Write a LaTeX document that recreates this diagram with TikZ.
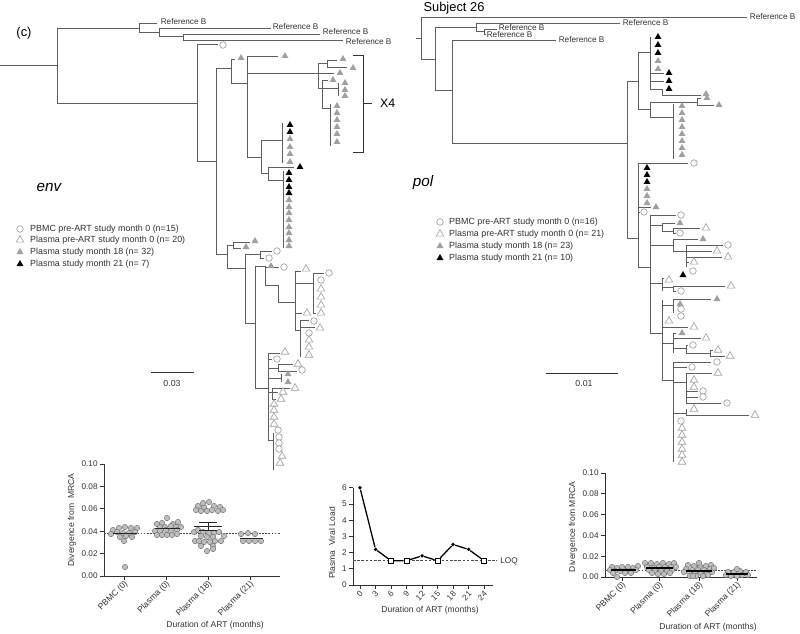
\documentclass[tikz,border=0pt]{standalone}
\usepackage{fontspec}
\setmainfont{Liberation Sans}
\usetikzlibrary{positioning,shapes.geometric}
\definecolor{treegray}{RGB}{95,95,95}
\definecolor{tipgray}{RGB}{160,160,160}
\definecolor{dotgray}{RGB}{190,190,190}

\begin{document}
\begin{tikzpicture}[
      x=0.3mm, y=-0.3mm,
      br/.style   ={draw=treegray, line width=0.6pt},
      sbar/.style ={draw=black!80, line width=0.8pt},
      refl/.style ={font=\fontsize{7}{8}\selectfont, text=black!80,
                    inner sep=0.5pt, anchor=west},
      lgd/.style  ={font=\fontsize{7.6}{9}\selectfont, text=black!80,
                    inner sep=0pt, anchor=west},
      circ/.style ={circle, draw=tipgray, fill=white, line width=0.55pt,
                    inner sep=0pt, minimum size=5.6pt},
      otri/.style ={regular polygon, regular polygon sides=3, draw=tipgray,
                    fill=white, line width=0.55pt, inner sep=0pt,
                    minimum size=7.4pt},
      gtri/.style ={regular polygon, regular polygon sides=3, fill=tipgray,
                    inner sep=0pt, minimum size=6.8pt},
      ktri/.style ={regular polygon, regular polygon sides=3, fill=black,
                    inner sep=0pt, minimum size=6.8pt},
      ax/.style   ={draw=black!80, line width=0.6pt},
      tk/.style   ={font=\fontsize{7}{8}\selectfont, text=black!80, inner sep=1pt},
      cat/.style  ={font=\fontsize{7.3}{8}\selectfont, text=black!80,
                    inner sep=0.5pt, rotate=45, anchor=east},
      axl/.style  ={font=\fontsize{7.3}{8}\selectfont, text=black!80, inner sep=0pt},
      dv/.style   ={circle, draw=black!55, fill=dotgray, line width=0.4pt,
                    inner sep=0pt, minimum size=4.6pt},
      meanl/.style={draw=black!85, line width=0.7pt},
      refd/.style ={draw=black!70, line width=0.5pt, dash pattern=on 1.6pt off 1pt},
      vdot/.style ={circle, fill=black, inner sep=0pt, minimum size=3.2pt},
      vsq/.style  ={rectangle, draw=black, fill=white, line width=0.6pt,
                    inner sep=0pt, minimum size=4.5pt},
      vline/.style={draw=black, line width=1.1pt}
    ]
    \useasboundingbox (0,0) rectangle (800,633);

    % --- titles ---
    \node[font=\fontsize{11}{12}\selectfont] (lblc) at (24,33) {(c)};
    \node[font=\fontsize{11}{12}\selectfont] (subj) at (454,8) {Subject 26};
    \node[font=\fontsize{13}{14}\selectfont\itshape] (genv) at (49,187) {env};
    \node[font=\fontsize{13}{14}\selectfont\itshape] (gpol) at (423,183) {pol};

    % --- env tree: reference sequences ---
    \draw[br] (0,65) -- (57,65) (57,28) -- (57,103);
    \draw[br] (57,28) -- (139,28) (139,23) -- (139,32) (139,23) -- (157,23);
    \draw[br] (139,32) -- (159,32) (159,28) -- (159,36) (159,28) -- (271,28);
    \draw[br] (159,36) -- (183,36) (183,34) -- (183,40) (183,34) -- (320,34)
              (183,40) -- (343,40);
    \node[refl] (era) at (160,22) {Reference B};
    \node[refl] (erb) at (272,27) {Reference B};
    \node[refl] (erc) at (322,32) {Reference B};
    \node[refl] (erd) at (345,42) {Reference B};

    % --- env tree: subject sequences ---
    \draw[br] (57,103) -- (197,103) (197,44) -- (197,161) (197,44) -- (218,44);
    \draw[br] (197,161) -- (216,161) (216,68) -- (216,254);
    \draw[br] (216,68) -- (231,68) (231,59) -- (231,83) (231,59) -- (235,59);
    \draw[br] (231,83) -- (247,83) (247,56) -- (247,157) (247,56) -- (278,56);
    % X4 clade
    \draw[br] (247,73) -- (318,73) (318,63) -- (318,88);
    \draw[br] (318,63) -- (327,63) (327,60) -- (327,67) (327,60) -- (337,60)
              (327,67) -- (347,67) (318,73) -- (334,73);
    \draw[br] (318,88) -- (322,88) (322,80) -- (322,108) (322,80) -- (328,80);
    \draw[br] (322,88) -- (338,88) (338,83) -- (338,96);
    \draw[br] (322,108) -- (330,108) (330,104) -- (330,146);
    \draw[sbar] (353,55) -- (363,55) -- (363,152) -- (353,152) (363,103) -- (372,103);
    \node[font=\fontsize{10.5}{12}\selectfont, anchor=west] (x4) at (376,103) {X4};
    % month 18/21 combs
    \draw[br] (247,157) -- (261,157) (261,140) -- (261,173);
    \draw[br] (261,140) -- (282,140) (282,123) -- (282,163);
    \draw[br] (261,173) -- (268,173) (268,167) -- (268,180) (268,167) -- (294,167);
    \draw[br] (268,180) -- (283,180) (283,171) -- (283,248);
    % pre-ART clades
    \draw[br] (216,254) -- (227,254) (227,245) -- (227,268);
    \draw[br] (227,245) -- (233,245) (233,242) -- (233,248) (233,242) -- (250,242)
              (233,248) -- (241,248);
    \draw[br] (227,268) -- (245,268) (245,254) -- (245,323);
    \draw[br] (245,254) -- (260,254) (260,251) -- (260,258) (260,251) -- (272,251)
              (260,258) -- (264,258);
    \draw[br] (245,323) -- (255,323) (255,266) -- (255,388);
    \draw[br] (255,266) -- (265,266) (265,266) -- (265,285) (265,267) -- (279,267);
    \draw[br] (265,285) -- (278,285) (278,285) -- (278,302) (278,302) -- (295,302)
              (295,271) -- (295,330) (295,271) -- (301,271);
    \draw[br] (295,283) -- (313,283) (313,273) -- (313,313) (313,273) -- (324,273)
              (313,313) -- (316,313) (295,313) -- (302,313);
    \draw[br] (295,330) -- (300,330) (300,320) -- (300,357) (300,320) -- (309,320)
              (300,327) -- (315,327);
    \draw[br] (255,388) -- (268,388) (268,353) -- (268,440);
    \draw[br] (268,353) -- (280,353) (268,359) -- (272,359);
    \draw[br] (268,368) -- (278,368) (278,364) -- (278,371) (278,364) -- (293,364)
              (278,371) -- (297,371);
    \draw[br] (268,378) -- (281,378) (281,374) -- (281,382);
    \draw[br] (268,392) -- (272,392) (272,388) -- (272,399) (272,388) -- (290,388)
              (272,392) -- (278,392) (272,399) -- (276,399);
    \draw[br] (268,440) -- (273,440) (273,433) -- (273,470);

    % --- env tips ---
    \foreach \px/\py [count=\i] in {223/45, 277/251, 269/258, 284/267, 329/273,
        321/280, 314/321, 309/333, 277/359, 302/370, 278/430, 279/437, 279/443,
        279/449}
      \node[circ] (ec\i) at (\px,\py) {};
    \foreach \px/\py [count=\i] in {306/269, 321/289, 321/297, 321/305, 321/313,
        307/313, 320/328, 309/340, 309/347, 309/355, 285/352, 298/364, 295/388,
        283/392, 281/399, 274/404, 274/410, 274/417, 274/424, 282/456, 280/463}
      \node[otri] (eo\i) at (\px,\py) {};
    \foreach \px/\py [count=\i] in {241/58, 285/56, 343/59, 353/68, 340/73, 333/80,
        345/83, 345/90, 345/96, 337/106, 337/113, 337/120, 337/127, 337/134,
        337/142, 290/139, 290/147, 290/154, 290/162, 289/200, 289/207, 289/213,
        289/220, 289/227, 289/233, 289/240, 289/246, 255/241, 246/247, 271/266,
        288/374, 288/382}
      \node[gtri] (eg\i) at (\px,\py) {};
    \foreach \px/\py [count=\i] in {290/125, 290/132, 300/167, 289/173, 289/180,
        289/187, 289/193}
      \node[ktri] (ek\i) at (\px,\py) {};

    % --- env legend and scale ---
    \node[circ] (elc) at (20,229) {};
    \node[otri] (elo) at (20,240) {};
    \node[gtri] (elg) at (20,252) {};
    \node[ktri] (elk) at (20,264) {};
    \node[lgd] (eltc) at (30,229) {PBMC pre-ART study month 0 (n=15)};
    \node[lgd] (elto) at (30,240) {Plasma pre-ART study month 0 (n= 20)};
    \node[lgd] (eltg) at (30,252) {Plasma study month 18 (n= 32)};
    \node[lgd] (eltk) at (30,264) {Plasma study month 21 (n= 7)};
    \draw[sbar] (151,372) -- (194,372);
    \node[tk, font=\fontsize{7.5}{9}\selectfont] (escl) at (172,383) {0.03};

    % --- pol tree: reference sequences ---
    \draw[br] (416,38) -- (421,38) (421,17) -- (421,59) (421,17) -- (747,17);
    \draw[br] (421,59) -- (435,59) (435,27) -- (435,90);
    \draw[br] (435,27) -- (476,27) (476,23) -- (476,31) (476,23) -- (620,23);
    \draw[br] (476,31) -- (484,31) (484,29) -- (484,34) (484,29) -- (497,29)
              (484,34) -- (486,34);
    \draw[br] (435,90) -- (452,90) (452,40) -- (452,143) (452,40) -- (556,40);
    \node[refl] (pra) at (749,17) {Reference B};
    \node[refl] (prb) at (622,23) {Reference B};
    \node[refl] (prc) at (498,28) {Reference B};
    \node[refl] (prd) at (486,35) {Reference B};
    \node[refl] (pre) at (558,40) {Reference B};

    % --- pol tree: subject sequences ---
    \draw[br] (452,143) -- (627,143) (627,81) -- (627,238);
    \draw[br] (627,81) -- (638,81) (638,52) -- (638,109);
    \draw[br] (638,52) -- (650,52) (650,37) -- (650,89) (650,73) -- (664,73)
              (650,81) -- (664,81) (650,89) -- (662,89) (662,89) -- (662,95)
              (662,95) -- (701,95);
    \draw[br] (638,109) -- (650,109) (650,102) -- (650,117) (650,102) -- (697,102)
              (697,98) -- (697,105) (697,98) -- (701,98) (697,105) -- (714,105);
    \draw[br] (650,117) -- (673,117) (673,104) -- (673,159);
    \draw[br] (627,238) -- (638,238) (638,163) -- (638,267) (638,163) -- (688,163)
              (638,207) -- (651,207) (638,212) -- (640,212);
    \draw[br] (638,267) -- (650,267) (650,215) -- (650,333) (650,215) -- (676,215);
    \draw[br] (650,225) -- (662,225) (662,223) -- (662,231) (662,223) -- (675,223)
              (662,231) -- (673,231) (673,228) -- (673,233) (673,228) -- (700,228)
              (673,233) -- (676,233);
    \draw[br] (650,245) -- (673,245) (673,239) -- (673,251) (673,239) -- (698,239)
              (673,251) -- (686,251) (686,245) -- (686,267) (686,245) -- (723,245)
              (686,251) -- (712,251) (686,257) -- (722,257) (686,262) -- (689,262);
    \draw[br] (650,283) -- (662,283) (662,278) -- (662,291) (662,278) -- (664,278)
              (662,287) -- (673,287) (673,286) -- (673,291) (673,286) -- (725,286)
              (673,291) -- (676,291);
    \draw[br] (650,333) -- (662,333) (662,300) -- (662,380);
    \draw[br] (662,305) -- (673,305) (673,299) -- (673,313) (673,299) -- (711,299)
              (662,327) -- (688,327);
    \draw[br] (662,343) -- (673,343) (673,333) -- (673,353) (673,333) -- (676,333)
              (673,338) -- (701,338) (673,348) -- (686,348) (686,345) -- (686,353)
              (686,345) -- (688,345) (686,353) -- (710,353) (710,350) -- (710,356)
              (710,350) -- (713,350) (710,356) -- (725,356);
    \draw[br] (662,380) -- (673,380) (673,362) -- (673,462) (673,362) -- (711,362)
              (673,367) -- (687,367);
    \draw[br] (673,382) -- (686,382) (686,373) -- (686,403) (686,373) -- (712,373)
              (686,391) -- (698,391) (686,397) -- (698,397) (686,403) -- (721,403);
    \draw[br] (673,413) -- (686,413) (686,409) -- (686,415) (686,415) -- (749,415);

    % --- pol tips ---
    \foreach \px/\py [count=\i] in {694/163, 644/212, 681/215, 680/233, 728/245,
        693/271, 681/291, 681/309, 681/316, 693/345, 717/362, 692/367, 703/391,
        703/397, 727/403, 681/421}
      \node[circ] (pc\i) at (\px,\py) {};
    \foreach \px/\py [count=\i] in {706/228, 717/251, 728/257, 694/262, 669/280,
        731/286, 669/321, 694/327, 706/338, 718/350, 730/356, 718/373, 694/380,
        694/387, 694/409, 755/415, 682/428, 682/435, 682/442, 682/449, 682/455,
        682/462}
      \node[otri] (po\i) at (\px,\py) {};
    \foreach \px/\py [count=\i] in {658/61, 658/69, 706/94, 707/98, 719/105,
        682/106, 682/113, 682/120, 682/127, 682/134, 682/141, 682/148, 682/155,
        647/189, 647/196, 647/203, 656/207, 680/223, 703/239, 717/299, 680/304,
        682/333}
      \node[gtri] (pg\i) at (\px,\py) {};
    \foreach \px/\py [count=\i] in {658/37, 658/45, 658/53, 669/73, 669/81, 669/89,
        647/168, 647/175, 647/182, 683/275}
      \node[ktri] (pk\i) at (\px,\py) {};

    % --- pol legend and scale ---
    \node[circ] (plc) at (440,222) {};
    \node[otri] (plo) at (440,234) {};
    \node[gtri] (plg) at (440,246) {};
    \node[ktri] (plk) at (440,258) {};
    \node[lgd] (pltc) at (449,222) {PBMC pre-ART study month 0 (n=16)};
    \node[lgd] (plto) at (449,234) {Plasma pre-ART study month 0 (n= 21)};
    \node[lgd] (pltg) at (449,246) {Plasma study month 18 (n= 23)};
    \node[lgd] (pltk) at (449,258) {Plasma study month 21 (n= 10)};
    \draw[sbar] (546,373) -- (618,373);
    \node[tk, font=\fontsize{7.5}{9}\selectfont] (pscl) at (584,383) {0.01};

    % --- env divergence chart ---
    \draw[ax] (104,464) -- (104,576) -- (280,576);
    \foreach \v/\t [count=\i] in {0/0.00, 0.02/0.02, 0.04/0.04, 0.06/0.06,
        0.08/0.08, 0.1/0.10} {
      \draw[ax] (100,{576-1120*\v}) -- (104,{576-1120*\v});
      \node[tk, anchor=east] (edy\i) at (99,{576-1120*\v}) {\t};
    }
    \foreach \cx/\t [count=\i] in {124/PBMC (0), 166/Plasma (0), 208/Plasma (18),
        250/Plasma (21)} {
      \draw[ax] (\cx,576) -- (\cx,580);
      \node[cat] (edx\i) at (\cx+3,582) {\t};
    }
    \draw[refd] (104,533) -- (280,533);
    \foreach \px/\py [count=\i] in {113/530, 119/528, 125/527, 131/528, 137/528,
        111/534, 117/532, 123/533, 129/533, 135/532, 120/537, 126/536, 132/537,
        124/541, 125/567,
        167/518, 157/524, 162/523, 173/524, 178/522, 160/527, 165/527, 171/526,
        176/527, 155/531, 160/531, 166/530, 171/531, 177/530, 157/535, 162/535,
        167/535, 172/535, 177/534, 181/527,
        209/502, 198/506, 204/507, 214/506, 220/507, 196/510, 201/511, 207/511,
        212/510, 218/511, 223/510, 203/503, 194/532, 198/530, 203/532, 209/533,
        214/533, 219/532, 224/536, 201/536, 207/537, 213/537, 195/541, 199/541,
        204/542, 210/542, 215/541, 221/541, 201/546, 213/546, 207/551, 213/549,
        241/534, 248/533, 255/534, 243/541, 249/541, 255/541, 261/541}
      \node[dv] (ed\i) at (\px,\py) {};
    \draw[meanl] (113,533) -- (137,533) (155,528) -- (180,528)
                 (194,526) -- (222,526) (199,522) -- (217,522) (199,530) -- (217,530)
                 (208,522) -- (208,530) (240,538) -- (263,538);
    \node[axl, rotate=90] (edyl) at (72,520) {Divergence from \ MRCA};
    \node[axl] (edxl) at (215,625) {Duration of ART (months)};

    % --- plasma viral load chart ---
    \draw[ax] (353,488) -- (353,585) -- (493,585);
    \foreach \v in {0,...,6} {
      \draw[ax] (349,{585-16.2*\v}) -- (353,{585-16.2*\v});
      \node[tk, anchor=east] (vy\v) at (348,{585-16.2*\v}) {\v};
    }
    \foreach \m in {0,3,...,24} {
      \draw[ax] ({360+5.17*\m},585) -- ({360+5.17*\m},589);
      \node[tk, rotate=45, anchor=east, inner sep=0.5pt] (vx\m)
        at ({362+5.17*\m},592) {\m};
    }
    \draw[refd, dash pattern=on 2.2pt off 1.4pt] (353,560.7) -- (497,560.7);
    \node[tk, anchor=west] (loq) at (499,561) {LOQ};
    \foreach \m/\v/\s in {0/6/vdot, 3/2.2/vdot, 6/1.5/vsq, 9/1.5/vsq, 12/1.8/vdot,
        15/1.5/vsq, 18/2.5/vdot, 21/2.2/vdot, 24/1.5/vsq}
      \node[\s] (vl\m) at ({360+5.17*\m},{585-16.2*\v}) {};
    \draw[vline] (vl0) -- (vl3) -- (vl6) -- (vl9) -- (vl12) -- (vl15) -- (vl18)
                 -- (vl21) -- (vl24);
    \node[axl, rotate=90] (vyl) at (332,543) {Plasma \ Viral Load};
    \node[axl] (vxl) at (430,610) {Duration of ART (months)};

    % --- pol divergence chart ---
    \draw[ax] (605,473) -- (605,577) -- (757,577);
    \foreach \v/\t [count=\i] in {0/0.00, 0.02/0.02, 0.04/0.04, 0.06/0.06,
        0.08/0.08, 0.1/0.10} {
      \draw[ax] (601,{577-1040*\v}) -- (605,{577-1040*\v});
      \node[tk, anchor=east] (pdy\i) at (600,{577-1040*\v}) {\t};
    }
    \foreach \cx/\t [count=\i] in {622/PBMC (0), 659/Plasma (0), 699/Plasma (18),
        737/Plasma (21)} {
      \draw[ax] (\cx,577) -- (\cx,581);
      \node[cat] (pdx\i) at (\cx+3,583) {\t};
    }
    \draw[refd] (605,570) -- (757,570);
    \foreach \px/\py [count=\i] in {612/567, 617/568, 622/567, 628/567, 633/568,
        638/566, 610/570, 615/571, 620/571, 626/571, 631/571, 636/570, 613/573,
        625/573, 631/573, 617/577,
        645/563, 651/563, 657/564, 663/563, 669/564, 674/563, 647/567, 653/568,
        659/567, 665/567, 671/567, 676/567, 649/570, 655/571, 661/571, 667/571,
        672/570, 652/573, 658/574, 664/574, 670/573,
        688/565, 694/566, 700/566, 706/566, 711/565, 686/569, 692/570, 698/570,
        704/570, 710/569, 689/572, 695/573, 701/573, 707/573, 712/572, 690/576,
        696/576, 703/576, 708/575, 684/572, 714/568, 699/563, 693/576,
        728/572, 734/572, 740/571, 746/572, 737/569, 726/575, 731/576, 737/576,
        742/575, 748/575}
      \node[dv] (pd\i) at (\px,\py) {};
    \draw[meanl, draw=black, line width=0.9pt] (611,570) -- (636,570)
                 (646,568) -- (673,568) (686,571) -- (712,571) (726,574) -- (748,574);
    \node[axl, rotate=90] (pdyl) at (573,527) {Divergence from MRCA};
    \node[axl] (pdxl) at (708,627) {Duration of ART (months)};
  \end{tikzpicture}
\end{document}
